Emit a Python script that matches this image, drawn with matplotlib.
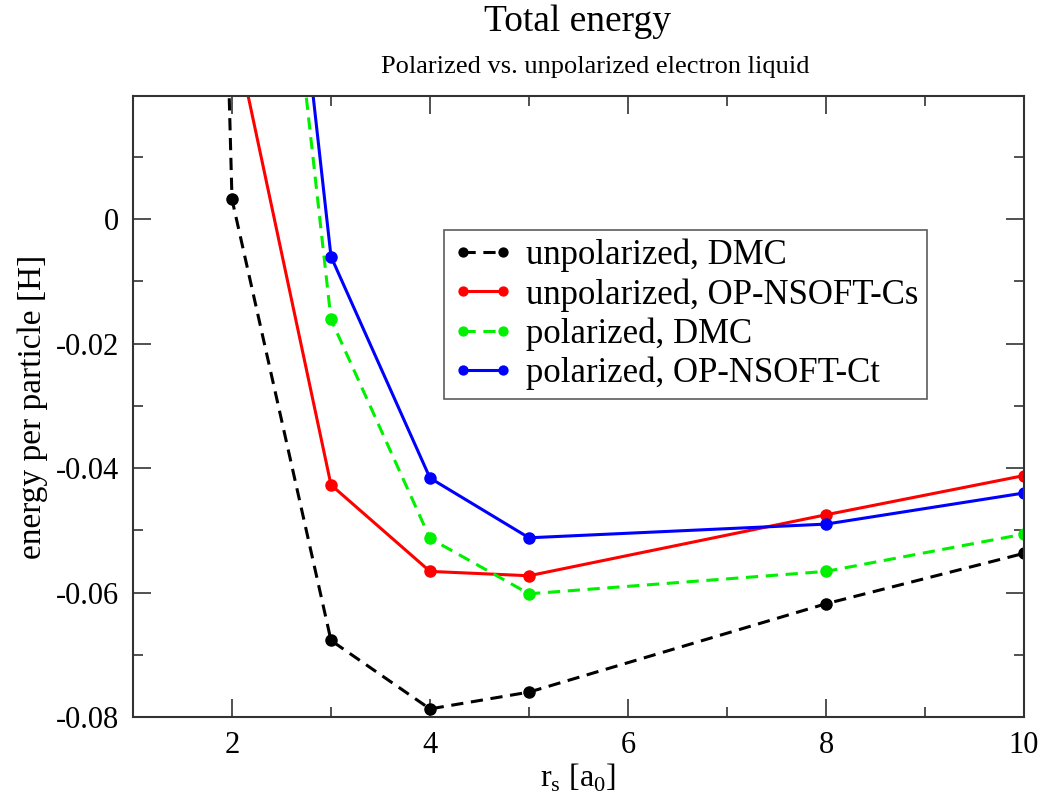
import matplotlib
matplotlib.use("Agg")
import matplotlib.pyplot as plt
from matplotlib.ticker import MultipleLocator, FixedLocator

plt.rcParams['font.family'] = ['Liberation Serif', 'DejaVu Serif']
plt.rcParams['mathtext.fontset'] = 'custom'
plt.rcParams['mathtext.rm'] = 'Liberation Serif'

rs_unpol_dmc = [1, 2, 3, 4, 5, 8, 10]
e_unpol_dmc = [0.587, 0.0032, -0.0677, -0.0787, -0.0760, -0.0618, -0.0537]

rs_unpol_ns = [2, 3, 4, 5, 8, 10]
e_unpol_ns = [0.032, -0.0427, -0.0566, -0.0573, -0.0475, -0.0412]

rs_pol_dmc = [2, 3, 4, 5, 8, 10]
e_pol_dmc = [0.127, -0.0161, -0.0513, -0.0602, -0.0566, -0.0506]

rs_pol_ns = [2, 3, 4, 5, 8, 10]
e_pol_ns = [0.137, -0.0060, -0.0416, -0.0512, -0.0490, -0.0440]

labels = ["unpolarized, DMC", "unpolarized, OP-NSOFT-Cs",
          "polarized, DMC", "polarized, OP-NSOFT-Ct"]

fig = plt.figure(figsize=(10.43, 8.0), dpi=100)
ax = fig.add_axes([133/1043, 1-717/800, (1024-133)/1043, (717-96)/800])

lw = 2.2
ms = 8
ax.plot(rs_unpol_dmc, e_unpol_dmc, color='black', ls=(0, (4, 2.5)), lw=lw,
        marker='o', ms=ms, label=labels[0])
ax.plot(rs_unpol_ns, e_unpol_ns, color='#ff0000', ls='-', lw=lw,
        marker='o', ms=ms, label=labels[1])
ax.plot(rs_pol_dmc, e_pol_dmc, color='#00f000', ls=(0, (4, 2.5)), lw=lw,
        marker='o', ms=ms, label=labels[2])
ax.plot(rs_pol_ns, e_pol_ns, color='#0000ff', ls='-', lw=lw,
        marker='o', ms=ms, label=labels[3])

ax.set_xlim(1, 10)
ax.set_ylim(-0.08, 0.0198)

ax.xaxis.set_major_locator(FixedLocator([2, 4, 6, 8, 10]))
ax.xaxis.set_minor_locator(MultipleLocator(1))
ax.yaxis.set_major_locator(FixedLocator([-0.08, -0.06, -0.04, -0.02, 0]))
ax.yaxis.set_minor_locator(MultipleLocator(0.01))
ax.set_yticklabels(['-0.08', '-0.06', '-0.04', '-0.02', '0'])

ax.tick_params(which='both', direction='in', top=True, right=True,
               labelsize=22, color='#333333')
ax.tick_params(which='major', length=13, width=1.2, pad=10)
ax.tick_params(which='minor', length=7, width=1.2)
for s in ax.spines.values():
    s.set_linewidth(1.5)
    s.set_color('#333333')

ax.set_xlabel(r'r$_\mathrm{s}$ [a$_\mathrm{0}$]', fontsize=23, labelpad=1)
ax.set_ylabel('energy per particle [H]', fontsize=24, labelpad=6)

fig.text(578/1043, 1-22/800, 'Total energy', ha='center', va='center', fontsize=27)
fig.text(595/1043, 1-67/800, 'Polarized vs. unpolarized electron liquid',
         ha='center', va='center', fontsize=19)

leg = ax.legend(loc='upper left', bbox_to_anchor=((444-133)/(1024-133), (717-230)/(717-96)),
                borderaxespad=0.0,
                fontsize=25, numpoints=2, handlelength=1.75, handletextpad=0.35,
                labelspacing=0.17, borderpad=0.25, frameon=True, fancybox=False,
                markerscale=0.8)
leg.get_frame().set_edgecolor('#333333')
leg.get_frame().set_linewidth(1.2)

fig.savefig('out.png', dpi=100)
